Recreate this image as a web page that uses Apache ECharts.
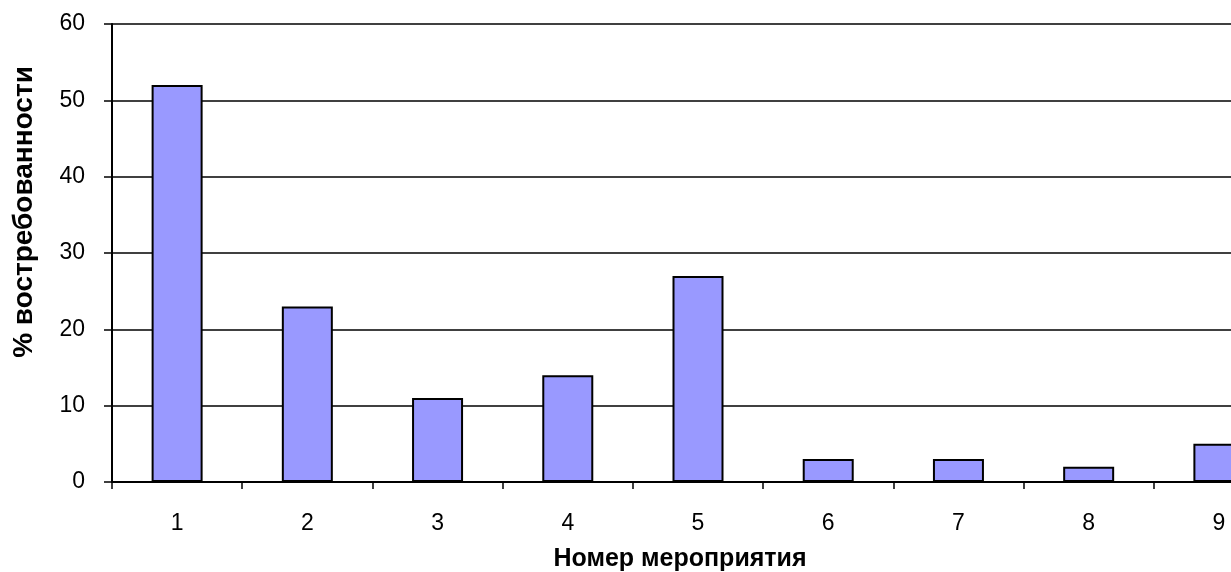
<!DOCTYPE html>
<html>
<head>
<meta charset="utf-8">
<script src="https://cdn.jsdelivr.net/npm/echarts@6/dist/echarts.min.js"></script>
<style>
  html, body { margin: 0; padding: 0; background: #fff; overflow: hidden; }
  /* the plot runs past the right edge of the window, so the canvas is wider than the view */
  #chart { width: 1300px; height: 572px; }
</style>
</head>
<body>
<div id="chart"></div>
<script>
// Номер мероприятия и процент востребованности
const categories = ['1', '2', '3', '4', '5', '6', '7', '8', '9'];
const demandPercent = [52, 23, 11, 14, 27, 3, 3, 2, 5];
const yTicks = { min: 0, max: 60, interval: 10 };
const xTitle = 'Номер мероприятия';
const yTitle = '% востребованности';

const chart = echarts.init(document.getElementById('chart'), null, { renderer: 'canvas' });
const font = '"Liberation Sans", Arial, sans-serif';

chart.setOption({
  animation: false,
  backgroundColor: '#ffffff',
  grid: { left: 112, top: 24, width: 1172, height: 458 },
  xAxis: {
    type: 'category',
    data: categories,
    axisLine: { show: true, lineStyle: { color: '#000', width: 2 } },
    axisTick: { show: true, length: 7, alignWithLabel: false, lineStyle: { color: '#000', width: 1.5 } },
    axisLabel: { color: '#000', fontFamily: font, fontSize: 23, margin: 30 },
    splitLine: { show: false }
  },
  yAxis: {
    type: 'value',
    min: yTicks.min,
    max: yTicks.max,
    interval: yTicks.interval,
    axisLine: { show: true, lineStyle: { color: '#000', width: 2 } },
    axisTick: { show: true, length: 8, lineStyle: { color: '#000', width: 1.5 } },
    axisLabel: { color: '#000', fontFamily: font, fontSize: 23, margin: 27 },
    splitLine: { show: true, lineStyle: { color: '#000', width: 1.5 } }
  },
  series: [{
    type: 'bar',
    data: demandPercent,
    barWidth: 51,
    itemStyle: { color: '#9999ff', borderColor: '#000', borderWidth: 2 }
  }],
  graphic: [
    {
      type: 'text',
      x: 680, y: 559,
      style: {
        text: xTitle, fill: '#000', font: 'bold 25px ' + font,
        textAlign: 'center', textVerticalAlign: 'middle'
      }
    },
    {
      type: 'text',
      x: 24, y: 212,
      rotation: Math.PI / 2,
      style: {
        text: yTitle, fill: '#000', font: 'bold 28px ' + font,
        textAlign: 'center', textVerticalAlign: 'middle'
      }
    }
  ]
});
</script>
</body>
</html>
